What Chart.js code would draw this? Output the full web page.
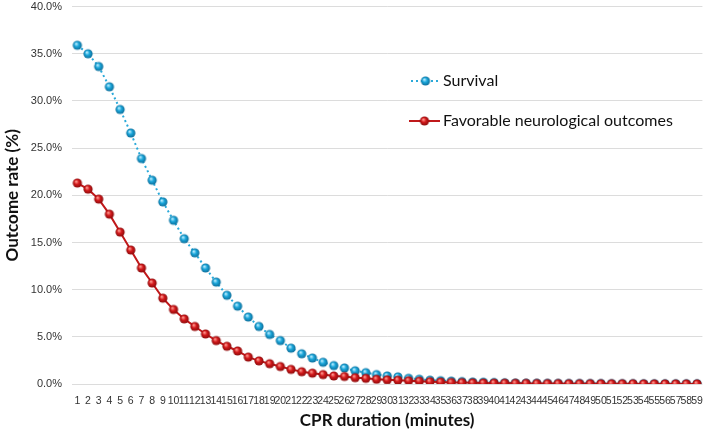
<!DOCTYPE html>
<html>
<head>
<meta charset="utf-8">
<script src="https://cdn.jsdelivr.net/npm/chart.js@4"></script>
<style>
  html, body { margin: 0; padding: 0; background: #fff; }
  #wrap { width: 709px; height: 434px; position: relative; }
</style>
</head>
<body>
<div id="wrap"><canvas id="chart"></canvas></div>
<script>
// CPR duration 1..59 minutes
const minutes = [];
for (let m = 1; m <= 59; m++) minutes.push(String(m));

const survival = [
  35.9, 35.0, 33.65, 31.5, 29.1, 26.6, 23.9, 21.6, 19.3, 17.35,
  15.4, 13.9, 12.3, 10.8, 9.4, 8.25, 7.1, 6.1, 5.25, 4.6,
  3.8, 3.2, 2.75, 2.3, 1.95, 1.7, 1.4, 1.2, 1.0, 0.85,
  0.75, 0.6, 0.5, 0.4, 0.35, 0.3, 0.25, 0.2, 0.18, 0.15,
  0.12, 0.1, 0.09, 0.08, 0.07, 0.06, 0.05, 0.05, 0.04, 0.04,
  0.03, 0.03, 0.03, 0.02, 0.02, 0.02, 0.02, 0.02, 0.02
];

const favorable = [
  21.3, 20.65, 19.6, 18.0, 16.1, 14.2, 12.3, 10.7, 9.1, 7.9,
  6.9, 6.1, 5.3, 4.6, 4.0, 3.5, 2.85, 2.45, 2.15, 1.85,
  1.55, 1.3, 1.15, 1.0, 0.85, 0.8, 0.67, 0.6, 0.5, 0.45,
  0.4, 0.35, 0.3, 0.25, 0.2, 0.17, 0.15, 0.12, 0.1, 0.09,
  0.08, 0.07, 0.06, 0.05, 0.04, 0.04, 0.03, 0.03, 0.03, 0.02,
  0.02, 0.02, 0.02, 0.01, 0.01, 0.01, 0.01, 0.01, 0.01
];

const seriesNames = ["Survival", "Favorable neurological outcomes"];
const yTicks = [0, 5, 10, 15, 20, 25, 30, 35, 40];

// glossy ball marker
function ball(base, light, dark) {
  const r = 4.6, s = Math.ceil(r * 2 + 2);
  const c = document.createElement("canvas");
  c.width = s; c.height = s;
  const g = c.getContext("2d");
  const cx = s / 2, cy = s / 2;
  const grad = g.createRadialGradient(cx - 1.3, cy - 1.6, 0.4, cx, cy, r);
  grad.addColorStop(0, light);
  grad.addColorStop(0.45, base);
  grad.addColorStop(1, dark);
  g.fillStyle = grad;
  g.beginPath();
  g.arc(cx, cy, r, 0, Math.PI * 2);
  g.fill();
  return c;
}
const blueBall = ball("#1aa6da", "#b8ecff", "#0d6d99");
const redBall = ball("#d3191c", "#ff9a90", "#8a0b0b");

const legendPlugin = {
  id: "insideLegend",
  afterDraw(chart) {
    const ctx = chart.ctx;
    ctx.save();
    const items = [
      { y: 81, x0: 411, x1: 440, color: "#2aa9d9", dash: [2, 3], img: blueBall, text: seriesNames[0] },
      { y: 121, x0: 409, x1: 440, color: "#c0191b", dash: [], img: redBall, text: seriesNames[1] }
    ];
    items.forEach(it => {
      ctx.strokeStyle = it.color;
      ctx.lineWidth = 2;
      ctx.setLineDash(it.dash);
      ctx.beginPath();
      ctx.moveTo(it.x0, it.y);
      ctx.lineTo(it.x1, it.y);
      ctx.stroke();
      ctx.setLineDash([]);
      const mx = (it.x0 + it.x1) / 2;
      ctx.drawImage(it.img, mx - it.img.width / 2, it.y - it.img.height / 2);
      ctx.fillStyle = "#111";
      ctx.font = "16px Lato";
      ctx.textBaseline = "middle";
      ctx.textAlign = "left";
      ctx.fillText(it.text, 443, it.y);
    });
    ctx.restore();
  }
};

new Chart(document.getElementById("chart"), {
  type: "line",
  data: {
    labels: minutes,
    datasets: [
      {
        label: seriesNames[0],
        data: survival,
        borderColor: "#2aa9d9",
        borderWidth: 2,
        borderDash: [2, 3],
        pointStyle: blueBall,
        pointRadius: 4.6,
        order: 1
      },
      {
        label: seriesNames[1],
        data: favorable,
        borderColor: "#c0191b",
        borderWidth: 2,
        pointStyle: redBall,
        pointRadius: 4.6,
        order: 0
      }
    ]
  },
  options: {
    responsive: true,
    maintainAspectRatio: false,
    animation: false,
    layout: { padding: { top: 6, right: 2, left: 0, bottom: 0 } },
    plugins: { legend: { display: false }, tooltip: { enabled: false } },
    scales: {
      x: {
        offset: true,
        grid: { display: false },
        border: { display: false },
        ticks: {
          autoSkip: false,
          maxRotation: 0,
          minRotation: 0,
          padding: 3,
          color: "#333",
          font: { family: "Liberation Sans", size: 10.5 }
        },
        title: {
          display: true,
          text: "CPR duration (minutes)",
          color: "#111",
          font: { family: "Lato", size: 17, weight: "bold" },
          padding: { top: 0, bottom: 3 }
        },
        afterFit(scale) { scale.height = 50; }
      },
      y: {
        min: 0,
        max: 40,
        afterBuildTicks(scale) { scale.ticks = yTicks.map(v => ({ value: v })); },
        grid: { color: "#dcdcdc", lineWidth: 1, drawTicks: false },
        border: { display: false },
        ticks: {
          padding: 10,
          color: "#333",
          font: { family: "Liberation Sans", size: 11 },
          callback: v => v.toFixed(1) + "%"
        },
        title: {
          display: true,
          text: "Outcome rate (%)",
          color: "#111",
          font: { family: "Lato", size: 17, weight: "bold" },
          padding: { top: 2, bottom: 0 }
        },
        afterFit(scale) {
          scale.width = 72;
          scale.paddingTop = 0;
          scale.paddingBottom = 0;
        }
      }
    }
  },
  plugins: [legendPlugin]
});
</script>
</body>
</html>
